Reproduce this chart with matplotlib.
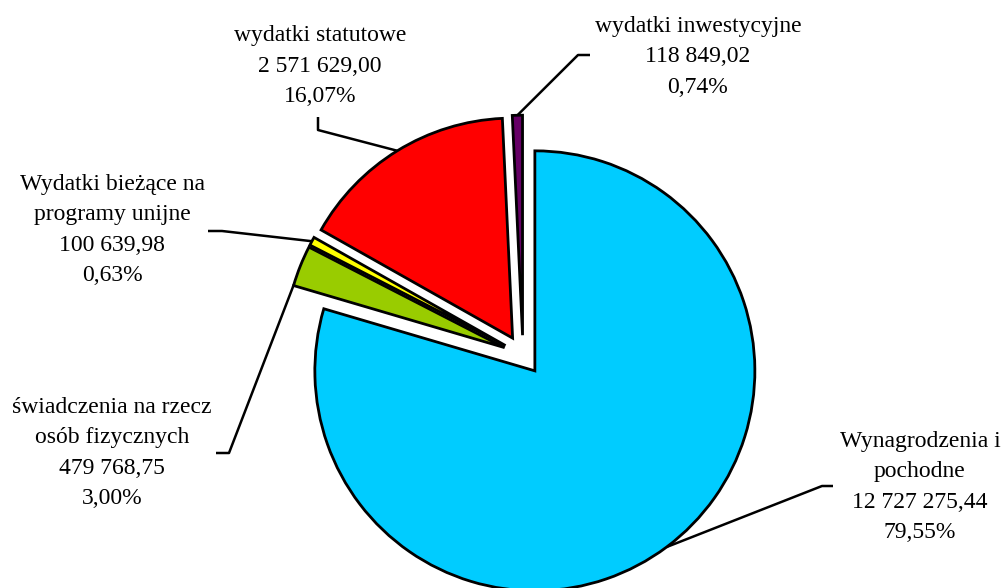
import numpy as np
import matplotlib
matplotlib.use("Agg")
import matplotlib.pyplot as plt

# Dane
nazwy = ["Wynagrodzenia i\npochodne", "świadczenia na rzecz\nosób fizycznych",
         "Wydatki bieżące na\nprogramy unijne", "wydatki statutowe", "wydatki inwestycyjne"]
kwoty = [12727275.44, 479768.75, 100639.98, 2571629.00, 118849.02]
kwoty_tekst = ["12 727 275,44", "479 768,75", "100 639,98", "2 571 629,00", "118 849,02"]
procenty = ["79,55%", "3,00%", "0,63%", "16,07%", "0,74%"]
kolory = ["#00CCFF", "#99CC00", "#FFFF00", "#FF0000", "#660066"]

W, H = 1005, 588
fig = plt.figure(figsize=(W / 100, H / 100), dpi=100)
ax = fig.add_axes([0, 0, 1, 1])

srodek = (523, H - 355)
promien = 220
wysuniecie = 0.09 * promien  # explode w pie() jest w jednostkach danych

wedges, _ = ax.pie(kwoty, colors=kolory, startangle=90, counterclock=False,
                   explode=[wysuniecie] * len(kwoty), center=srodek, radius=promien,
                   wedgeprops=dict(edgecolor="black", linewidth=2))

# pie() ustawia własne granice, więc nadpisujemy je po rysowaniu
ax.set_xlim(0, W)
ax.set_ylim(0, H)
ax.set_aspect("equal")
ax.axis("off")

# Pozycje etykiet (x, y obrazu), punkt załamania linii, miejsce zaczepienia w klinie
etykiety = [
    dict(xy=(920, 487), lam=[(833, 486), (822, 486)], frac=0.5),
    dict(xy=(112, 453), lam=[(216, 453), (229, 453)], frac=0.97),
    dict(xy=(112, 230), lam=[(208, 231), (222, 231)], frac=0.5),
    dict(xy=(320, 66), lam=[(318, 117), (318, 130)], frac=0.5),
    dict(xy=(698, 57), lam=[(590, 55), (578, 55)], frac=0.5),
]

for w, nazwa, kt, pr, e in zip(wedges, nazwy, kwoty_tekst, procenty, etykiety):
    th = np.deg2rad(w.theta1 + (w.theta2 - w.theta1) * e["frac"])
    cx, cy = w.center
    px = cx + w.r * np.cos(th)
    py = cy + w.r * np.sin(th)
    xs = [p[0] for p in e["lam"]] + [px]
    ys = [H - p[1] for p in e["lam"]] + [py]
    ax.plot(xs, ys, color="black", linewidth=1.8, solid_capstyle="butt", zorder=0)
    ax.text(e["xy"][0], H - e["xy"][1], f"{nazwa}\n{kt}\n{pr}", ha="center", va="center",
            multialignment="center", family="Liberation Serif", fontsize=17, linespacing=1.6)

fig.savefig("out.png", dpi=100)
